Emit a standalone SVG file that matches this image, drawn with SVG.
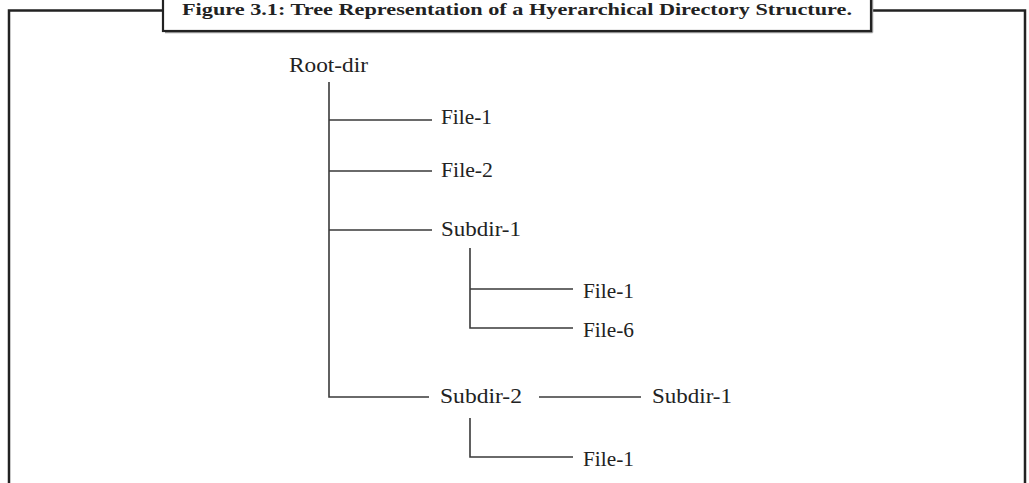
<svg xmlns="http://www.w3.org/2000/svg" width="1029" height="483" viewBox="0 0 1029 483">
<style>
.frame{fill:none;stroke:#222;stroke-width:2.5}
.edge{fill:none;stroke:#3a3a3a;stroke-width:1.6}
.lbl{font-family:"Liberation Serif","Times New Roman",serif;font-size:21px;fill:#222}
.title{font-family:"Liberation Serif","Times New Roman",serif;font-size:16px;font-weight:bold;fill:#222}
</style>
<rect width="1029" height="483" fill="#fff"/>
<g id="frame">
<path class="frame" d="M9,483 V10.5 H163 M871,10.5 H1025 V483"/>
<line x1="165" y1="32.5" x2="872.5" y2="32.5" stroke="#999" stroke-width="1.5"/>
<line x1="872.5" y1="-2" x2="872.5" y2="32.5" stroke="#999" stroke-width="1.5"/>
<rect x="163" y="-6" width="708" height="37" fill="#fff" stroke="#222" stroke-width="2.2"/>
<text class="title" x="182" y="14.5" textLength="670" lengthAdjust="spacingAndGlyphs">Figure 3.1: Tree Representation of a Hyerarchical Directory Structure.</text>
</g>
<g id="connectors">
<path class="edge" d="M329,82 V397 H429"/>
<path class="edge" d="M329,120 H432 M329,171 H432 M329,230 H432"/>
<path class="edge" d="M470,248 V328 H573 M470,289 H573"/>
<path class="edge" d="M539,397 H641"/>
<path class="edge" d="M470,418 V457 H573"/>
</g>
<g id="root-dir"><text class="lbl" x="289" y="72" textLength="79" lengthAdjust="spacingAndGlyphs">Root-dir</text></g>
<g id="file-1"><text class="lbl" x="441" y="124" textLength="51" lengthAdjust="spacingAndGlyphs">File-1</text></g>
<g id="file-2"><text class="lbl" x="441" y="177" textLength="52" lengthAdjust="spacingAndGlyphs">File-2</text></g>
<g id="subdir-1"><text class="lbl" x="441" y="236" textLength="80" lengthAdjust="spacingAndGlyphs">Subdir-1</text></g>
<g id="subdir-1-file-1"><text class="lbl" x="583" y="298" textLength="51" lengthAdjust="spacingAndGlyphs">File-1</text></g>
<g id="subdir-1-file-6"><text class="lbl" x="583" y="337" textLength="51" lengthAdjust="spacingAndGlyphs">File-6</text></g>
<g id="subdir-2"><text class="lbl" x="440" y="403" textLength="82" lengthAdjust="spacingAndGlyphs">Subdir-2</text></g>
<g id="subdir-2-subdir-1"><text class="lbl" x="652" y="403" textLength="80" lengthAdjust="spacingAndGlyphs">Subdir-1</text></g>
<g id="subdir-2-file-1"><text class="lbl" x="583" y="466" textLength="51" lengthAdjust="spacingAndGlyphs">File-1</text></g>
</svg>
